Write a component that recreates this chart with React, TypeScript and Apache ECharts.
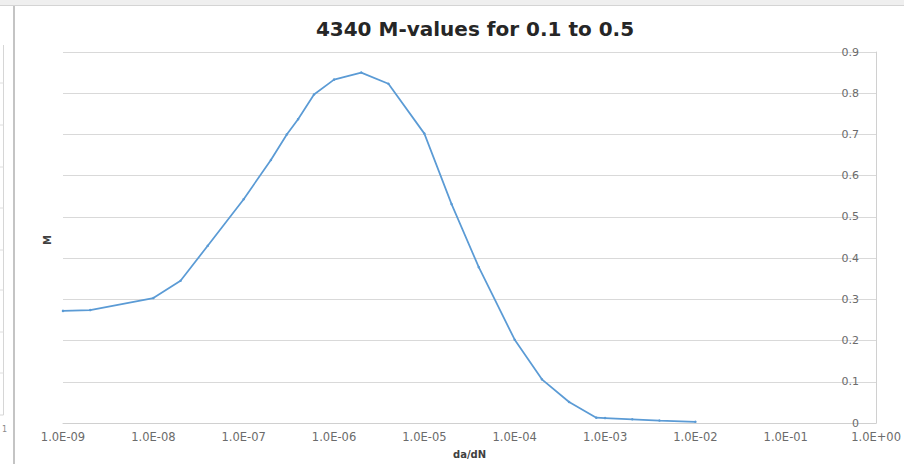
import React, { useEffect, useRef } from "react";
import * as echarts from "echarts";

const titleText = "4340 M-values for 0.1 to 0.5";
const xAxisName = "da/dN";
const yAxisName = "M";

// da/dN values (log scale)
const daDN = [
  1e-9, 2e-9, 1e-8, 2e-8, 4e-8, 1e-7, 2e-7, 3e-7, 4e-7, 6e-7, 1e-6, 2e-6, 4e-6,
  1e-5, 2e-5, 4e-5, 1e-4, 2e-4, 4e-4, 8e-4, 1e-3, 2e-3, 4e-3, 1e-2,
];
// M values
const mValues = [
  0.272, 0.274, 0.303, 0.345, 0.43, 0.543, 0.638, 0.7, 0.737, 0.797, 0.833,
  0.85, 0.823, 0.702, 0.531, 0.378, 0.202, 0.106, 0.051, 0.013, 0.012, 0.009,
  0.006, 0.003,
];

const xMin = 1e-9;
const xMax = 1;
const yMin = 0;
const yMax = 0.9;
const yStep = 0.1;

function fmtExp(v: number): string {
  const e = Math.round(Math.log10(v));
  const s = e < 0 ? "-" : "+";
  return "1.0E" + s + String(Math.abs(e)).padStart(2, "0");
}

export default function App() {
  const ref = useRef<HTMLDivElement>(null);
  useEffect(() => {
    if (!ref.current) return;
    const chart = echarts.init(ref.current, null, { renderer: "svg" });
    const leftTicks = [83, 125, 167, 208, 250, 290, 332, 373];
    const option: any = {
      animation: false,
      backgroundColor: "#ffffff",
      title: {
        text: titleText,
        left: 470,
        textAlign: "center",
        top: 14,
        textStyle: {
          fontFamily: "DejaVu Sans",
          fontWeight: "bold",
          fontSize: 20,
          color: "#262626",
        },
      },
      grid: { left: 63, right: 25, top: 52, bottom: 39 },
      xAxis: {
        type: "log",
        logBase: 10,
        min: xMin,
        max: xMax,
        interval: 1,
        name: xAxisName,
        nameLocation: "middle",
        nameGap: 26,
        nameTextStyle: {
          fontFamily: "DejaVu Sans",
          fontWeight: "bold",
          fontSize: 10,
          color: "#404040",
        },
        axisLine: { show: true, lineStyle: { color: "#d0d0d0", width: 1 } },
        axisTick: { show: false },
        splitLine: { show: false },
        axisLabel: {
          formatter: (v: number) => fmtExp(v),
          fontFamily: "DejaVu Sans",
          fontSize: 11.5,
          color: "#6b6b6b",
          margin: 8,
          showMaxLabel: true,
          showMinLabel: true,
        },
      },
      yAxis: {
        type: "value",
        position: "right",
        min: yMin,
        max: yMax,
        interval: yStep,
        axisLine: { show: true, lineStyle: { color: "#d0d0d0", width: 1 } },
        axisTick: { show: false },
        splitLine: { show: true, lineStyle: { color: "#d9d9d9", width: 1 } },
        axisLabel: {
          inside: true,
          margin: 17,
          formatter: (v: number) => String(Number(v.toFixed(1))),
          fontFamily: "DejaVu Sans",
          fontSize: 11,
          color: "#6b6b6b",
        },
      },
      series: [
        {
          type: "line",
          data: daDN.map((x, i) => [x, mValues[i]]),
          symbol: "circle",
          symbolSize: 2.5,
          lineStyle: { color: "#5b9bd5", width: 1.75 },
          itemStyle: { color: "#5b9bd5" },
        },
      ],
      graphic: [
        {
          type: "rect",
          shape: { x: 0, y: 0, width: 904, height: 5 },
          style: { fill: "#efefef" },
          silent: true,
        },
        {
          type: "line",
          shape: { x1: 0, y1: 5.5, x2: 904, y2: 5.5 },
          style: { stroke: "#d4d4d4", lineWidth: 1 },
          silent: true,
        },
        {
          type: "line",
          shape: { x1: 14, y1: 6, x2: 14, y2: 464 },
          style: { stroke: "#c4c4c4", lineWidth: 2 },
          silent: true,
        },
        {
          type: "line",
          shape: { x1: 3.5, y1: 45, x2: 3.5, y2: 415 },
          style: { stroke: "#d6d6d6", lineWidth: 1 },
          silent: true,
        },
        {
          type: "line",
          shape: { x1: 0, y1: 415, x2: 3.5, y2: 415 },
          style: { stroke: "#d6d6d6", lineWidth: 1 },
          silent: true,
        },
        ...leftTicks.map((y) => ({
          type: "line",
          shape: { x1: 0, y1: y, x2: 3.5, y2: y },
          style: { stroke: "#dedede", lineWidth: 1 },
          silent: true,
        })),
        {
          type: "text",
          x: 2,
          y: 425,
          style: {
            text: "1",
            fontFamily: "DejaVu Sans",
            fontSize: 8,
            fill: "#8a8a8a",
          },
          silent: true,
        },
        {
          type: "text",
          x: 47,
          y: 240,
          rotation: Math.PI / 2,
          style: {
            text: yAxisName,
            fontFamily: "DejaVu Sans",
            fontWeight: "bold",
            fontSize: 10,
            fill: "#404040",
            align: "center",
            verticalAlign: "middle",
          },
          silent: true,
        },
      ],
    };
    chart.setOption(option);
    return () => chart.dispose();
  }, []);
  return (
    <div
      ref={ref}
      style={{ position: "fixed", left: 0, top: 0, width: 904, height: 464 }}
    />
  );
}
